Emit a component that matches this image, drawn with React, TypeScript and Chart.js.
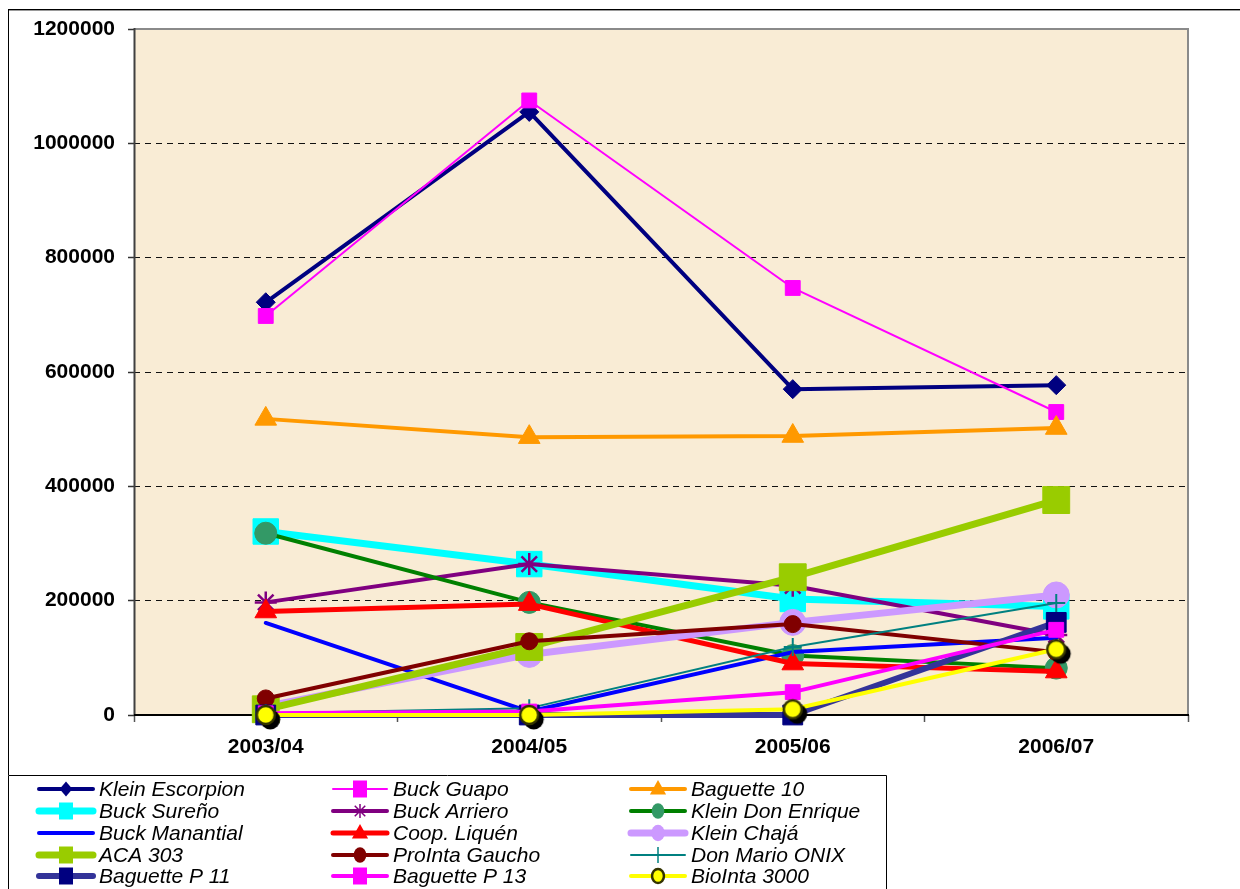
import React, { useEffect, useRef } from 'react';
import { Chart, registerables } from 'chart.js';

Chart.register(...registerables);

// ---------- data ----------
const categories = ['2003/04', '2004/05', '2005/06', '2006/07'];
const yTickValues = [0, 200000, 400000, 600000, 800000, 1000000, 1200000];

const kleinEscorpion = [722000, 1055000, 570000, 577000];
const buckGuapo = [698000, 1075000, 747000, 530000];
const baguette10 = [518000, 486000, 488000, 502000];
const buckSureno = [321000, 264000, 203000, 190000];
const buckArriero = [197000, 264000, 226000, 140000];
const kleinDonEnrique = [318000, 197000, 104000, 82000];
const buckManantial = [161000, 6000, 110000, 135000];
const coopLiquen = [181000, 194000, 90000, 76000];
const kleinChaja = [15000, 106000, 162000, 210000];
const aca303 = [10000, 119000, 241000, 376000];
const prointaGaucho = [29000, 129000, 159000, 110000];
const donMarioOnix = [3000, 12000, 119000, 196000];
const baguetteP11 = [0, 0, 0, 162000];
const baguetteP13 = [3000, 6000, 40000, 149000];
const bioInta3000 = [0, 0, 10000, 115000];

type Series = {
  label: string;
  data: number[];
  line: string;
  width: number;
  style: string;
  r: number;
  fill: string;
  stroke: string;
  pbw: number;
  lr: number;
};

const series: Series[] = [
  { label: 'Klein Escorpion', data: kleinEscorpion, line: '#000080', width: 4, style: 'rectRot', r: 9.5, fill: '#000080', stroke: '#000080', pbw: 1, lr: 7.5 },
  { label: 'Buck Guapo', data: buckGuapo, line: '#FF00FF', width: 2, style: 'rect', r: 10.5, fill: '#FF00FF', stroke: '#FF00FF', pbw: 1, lr: 10 },
  { label: 'Baguette 10', data: baguette10, line: '#FF9900', width: 4, style: 'triangle', r: 12.5, fill: '#FF9900', stroke: '#FF9900', pbw: 1, lr: 9 },
  { label: 'Buck Sureño', data: buckSureno, line: '#00FFFF', width: 7, style: 'rect', r: 18, fill: '#00FFFF', stroke: '#00FFFF', pbw: 1, lr: 10 },
  { label: 'Buck Arriero', data: buckArriero, line: '#800080', width: 4, style: 'star', r: 11, fill: '#800080', stroke: '#800080', pbw: 2.5, lr: 7 },
  { label: 'Klein Don Enrique', data: kleinDonEnrique, line: '#008000', width: 4, style: 'circle', r: 11, fill: '#339966', stroke: '#339966', pbw: 1, lr: 7 },
  { label: 'Buck Manantial', data: buckManantial, line: '#0000FF', width: 4, style: 'none', r: 0, fill: '#0000FF', stroke: '#0000FF', pbw: 1, lr: 0 },
  { label: 'Coop. Liquén', data: coopLiquen, line: '#FF0000', width: 5, style: 'triangle', r: 12.5, fill: '#FF0000', stroke: '#FF0000', pbw: 1, lr: 9 },
  { label: 'Klein Chajá', data: kleinChaja, line: '#CC99FF', width: 7, style: 'circle', r: 13, fill: '#CC99FF', stroke: '#CC99FF', pbw: 1, lr: 7.5 },
  { label: 'ACA 303', data: aca303, line: '#99CC00', width: 7, style: 'rect', r: 19, fill: '#99CC00', stroke: '#99CC00', pbw: 1, lr: 10 },
  { label: 'ProInta Gaucho', data: prointaGaucho, line: '#800000', width: 4, style: 'circle', r: 8.5, fill: '#800000', stroke: '#800000', pbw: 1, lr: 7 },
  { label: 'Don Mario ONIX', data: donMarioOnix, line: '#008080', width: 2, style: 'cross', r: 9, fill: '#008080', stroke: '#008080', pbw: 2, lr: 8 },
  { label: 'Baguette P 11', data: baguetteP11, line: '#333399', width: 6, style: 'rect', r: 14, fill: '#000080', stroke: '#000080', pbw: 1, lr: 10 },
  { label: 'Baguette P 13', data: baguetteP13, line: '#FF00FF', width: 4, style: 'rect', r: 10.5, fill: '#FF00FF', stroke: '#FF00FF', pbw: 1, lr: 10 },
  { label: 'BioInta 3000', data: bioInta3000, line: '#FFFF00', width: 4, style: 'bio', r: 10, fill: '#FFFF00', stroke: '#333300', pbw: 2.5, lr: 7 },
];

// ---------- layout constants ----------
const W = 1240;
const H = 889;
const AREA = { left: 134, top: 29, right: 1188, bottom: 715 };
const X_AXIS_H = 50;
const LEGEND_BOX = { left: 8, top: 775, right: 886 };
const LEGEND_COLS = [37, 331, 629];
const LEGEND_ROWS = [789, 811, 833, 855, 876];
const FONT = '"Liberation Sans", Arial, Helvetica, sans-serif';

function makeBioPoint(): HTMLCanvasElement {
  const c = document.createElement('canvas');
  c.width = 36;
  c.height = 36;
  const g = c.getContext('2d')!;
  g.fillStyle = '#000000';
  g.beginPath();
  g.arc(18 + 4.5, 18 + 4.5, 10, 0, Math.PI * 2);
  g.fill();
  g.fillStyle = '#FFFF00';
  g.strokeStyle = '#333300';
  g.lineWidth = 2.5;
  g.beginPath();
  g.arc(18, 18, 9, 0, Math.PI * 2);
  g.fill();
  g.stroke();
  return c;
}

function drawLegendMarker(ctx: CanvasRenderingContext2D, s: Series, x: number, y: number) {
  const r = s.lr;
  if (r <= 0) return;
  ctx.save();
  ctx.fillStyle = s.fill;
  ctx.strokeStyle = s.stroke;
  ctx.lineWidth = s.pbw;
  ctx.beginPath();
  switch (s.style) {
    case 'rectRot':
      ctx.moveTo(x - r * 0.85, y);
      ctx.lineTo(x, y - r);
      ctx.lineTo(x + r * 0.85, y);
      ctx.lineTo(x, y + r);
      ctx.closePath();
      ctx.fill();
      break;
    case 'rect':
      ctx.rect(x - r * 0.7, y - r * 0.85, r * 1.4, r * 1.7);
      ctx.fill();
      break;
    case 'triangle':
      ctx.moveTo(x, y - r);
      ctx.lineTo(x + r * 0.9, y + r * 0.6);
      ctx.lineTo(x - r * 0.9, y + r * 0.6);
      ctx.closePath();
      ctx.fill();
      break;
    case 'circle':
      ctx.ellipse(x, y, r * 0.9, r * 1.1, 0, 0, Math.PI * 2);
      ctx.fill();
      break;
    case 'star':
      ctx.lineWidth = 1.5;
      ctx.moveTo(x, y - r);
      ctx.lineTo(x, y + r);
      ctx.moveTo(x - r * 0.75, y - r * 0.75);
      ctx.lineTo(x + r * 0.75, y + r * 0.75);
      ctx.moveTo(x + r * 0.75, y - r * 0.75);
      ctx.lineTo(x - r * 0.75, y + r * 0.75);
      ctx.stroke();
      break;
    case 'cross':
      ctx.lineWidth = 1.5;
      ctx.moveTo(x, y - r);
      ctx.lineTo(x, y + r);
      ctx.moveTo(x - r, y);
      ctx.lineTo(x + r, y);
      ctx.stroke();
      break;
    case 'bio':
      ctx.lineWidth = 2.5;
      ctx.ellipse(x, y, r * 0.85, r, 0, 0, Math.PI * 2);
      ctx.fill();
      ctx.stroke();
      break;
  }
  ctx.restore();
}

const framePlugin = {
  id: 'framePlugin',
  beforeDraw(chart: any) {
    const ctx: CanvasRenderingContext2D = chart.ctx;
    const a = chart.chartArea;
    ctx.save();
    ctx.fillStyle = '#FFFFFF';
    ctx.fillRect(0, 0, W, H);
    ctx.fillStyle = '#F9ECD5';
    ctx.fillRect(a.left, a.top, a.right - a.left, a.bottom - a.top);
    ctx.restore();
  },
  beforeDatasetsDraw(chart: any) {
    const ctx: CanvasRenderingContext2D = chart.ctx;
    const a = chart.chartArea;
    ctx.save();
    ctx.lineWidth = 2;
    ctx.strokeStyle = '#8A8A8A';
    ctx.beginPath();
    ctx.moveTo(a.left, a.top);
    ctx.lineTo(a.right, a.top);
    ctx.lineTo(a.right, a.bottom);
    ctx.stroke();
    ctx.strokeStyle = '#404040';
    ctx.beginPath();
    ctx.moveTo(a.left + 0.5, a.top - 1);
    ctx.lineTo(a.left + 0.5, a.bottom);
    ctx.stroke();
    ctx.strokeStyle = '#000000';
    ctx.beginPath();
    ctx.moveTo(a.left, a.bottom);
    ctx.lineTo(a.right + 1, a.bottom);
    ctx.stroke();
    ctx.restore();
  },
  afterDraw(chart: any) {
    const ctx: CanvasRenderingContext2D = chart.ctx;
    ctx.save();
    // outer frame
    ctx.fillStyle = '#000000';
    ctx.fillRect(8, 9, W - 8, 1);
    ctx.fillRect(8, 9, 1, H - 9);
    ctx.fillStyle = '#9A9A9A';
    ctx.fillRect(9, 10, W - 9, 1);
    // legend box
    ctx.fillStyle = '#FFFFFF';
    ctx.fillRect(LEGEND_BOX.left, LEGEND_BOX.top, LEGEND_BOX.right - LEGEND_BOX.left, H - LEGEND_BOX.top);
    ctx.strokeStyle = '#000000';
    ctx.lineWidth = 1;
    ctx.beginPath();
    ctx.moveTo(LEGEND_BOX.left + 0.5, H + 2);
    ctx.lineTo(LEGEND_BOX.left + 0.5, LEGEND_BOX.top + 0.5);
    ctx.lineTo(LEGEND_BOX.right + 0.5, LEGEND_BOX.top + 0.5);
    ctx.lineTo(LEGEND_BOX.right + 0.5, H + 2);
    ctx.stroke();
    // legend items
    series.forEach((s, i) => {
      const col = i % 3;
      const row = Math.floor(i / 3);
      const x0 = LEGEND_COLS[col];
      const y = LEGEND_ROWS[row];
      ctx.save();
      ctx.strokeStyle = s.line;
      ctx.lineWidth = s.width;
      ctx.lineCap = 'round';
      ctx.beginPath();
      ctx.moveTo(x0 + 2, y);
      ctx.lineTo(x0 + 56, y);
      ctx.stroke();
      ctx.restore();
      drawLegendMarker(ctx, s, x0 + 29, y);
      ctx.fillStyle = '#000000';
      ctx.font = 'italic 21px ' + FONT;
      ctx.textBaseline = 'middle';
      ctx.textAlign = 'left';
      ctx.fillText(s.label, x0 + 62, y + 1);
    });
    ctx.restore();
  },
};

export default function App() {
  const ref = useRef<HTMLCanvasElement>(null);

  useEffect(() => {
    const canvas = ref.current;
    if (!canvas) return;
    const bio = makeBioPoint();
    const datasets = series.map((s, i) => ({
      label: s.label,
      data: s.data,
      borderColor: s.line,
      backgroundColor: s.fill,
      borderWidth: s.width,
      borderJoinStyle: 'round' as const,
      borderCapStyle: 'round' as const,
      pointStyle: s.style === 'bio' ? bio : s.style === 'none' ? 'circle' : s.style,
      pointRadius: s.r,
      pointHoverRadius: s.r,
      pointBackgroundColor: s.fill,
      pointBorderColor: s.stroke,
      pointBorderWidth: s.pbw,
      tension: 0,
      fill: false,
      clip: false as any,
      order: series.length - i,
    }));

    const chart = new Chart(canvas, {
      type: 'line',
      data: { labels: categories, datasets },
      plugins: [framePlugin],
      options: {
        animation: false,
        responsive: false,
        devicePixelRatio: 1,
        events: [],
        layout: {
          padding: {
            left: 0,
            top: AREA.top,
            right: W - AREA.right,
            bottom: H - AREA.bottom - X_AXIS_H,
          },
        },
        plugins: {
          legend: { display: false },
          tooltip: { enabled: false },
          title: { display: false },
        },
        scales: {
          x: {
            type: 'category',
            offset: true,
            afterFit: (scale: any) => {
              scale.height = X_AXIS_H;
            },
            grid: {
              display: true,
              offset: true,
              drawOnChartArea: false,
              drawTicks: true,
              tickLength: 7,
              tickColor: '#555555',
              tickWidth: 1.5,
              color: '#555555',
            },
            border: { display: false },
            ticks: {
              autoSkip: false,
              maxRotation: 0,
              padding: 13,
              color: '#000000',
              font: { family: FONT, size: 21, weight: 'bold' },
            },
          },
          y: {
            type: 'linear',
            min: 0,
            max: 1200000,
            afterFit: (scale: any) => {
              scale.width = AREA.left;
            },
            afterBuildTicks: (scale: any) => {
              scale.ticks = yTickValues.map((v) => ({ value: v }));
            },
            grid: {
              display: true,
              drawOnChartArea: true,
              drawTicks: true,
              tickLength: 6,
              tickColor: '#333333',
              tickWidth: 1.5,
              lineWidth: 1,
              color: (c: any) =>
                c.tick && (c.tick.value === 0 || c.tick.value === 1200000) ? 'rgba(0,0,0,0)' : '#111111',
            },
            border: { display: false, dash: [6, 5] },
            ticks: {
              padding: 13,
              color: '#000000',
              font: { family: FONT, size: 21, weight: 'bold' },
              callback: (v: any) => String(v),
            },
          },
        },
      },
    });
    return () => chart.destroy();
  }, []);

  return (
    <div style={{ position: 'fixed', left: 0, top: 0, width: W, height: H, background: '#FFFFFF' }}>
      <canvas ref={ref} width={W} height={H} style={{ display: 'block', width: W, height: H }} />
    </div>
  );
}
